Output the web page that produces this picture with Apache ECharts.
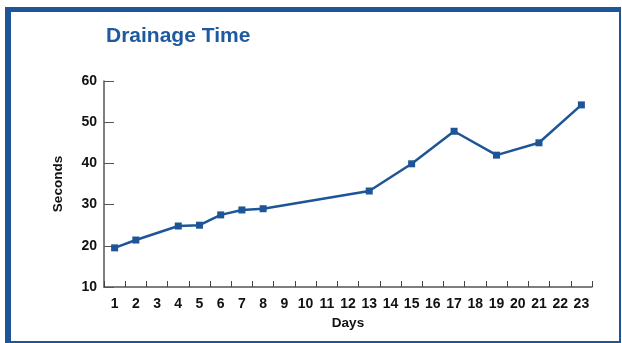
<!DOCTYPE html>
<html>
<head>
<meta charset="utf-8">
<script src="https://cdn.jsdelivr.net/npm/echarts@6/dist/echarts.min.js"></script>
<style>
  html, body { margin: 0; padding: 0; background: #fff; }
  #main { width: 622px; height: 343px; }
</style>
</head>
<body>
<div id="main"></div>
<script>
var chartDom = document.getElementById('main');
var myChart = echarts.init(chartDom);
var option;

// x categories: days 1..23
var days = ['1', '2', '3', '4', '5', '6', '7', '8', '9', '10', '11', '12',
    '13', '14', '15', '16', '17', '18', '19', '20', '21', '22', '23'];
// drainage time in seconds, only measured on some days
var seconds = [19.5, 21.4, null, 24.8, 25.0, 27.5, 28.7, 29.0, null, null, null, null,
    33.3, null, 39.9, null, 47.8, null, 42.0, null, 45.0, null, 54.2];

var blue = '#1d5597';
var labelFont = { color: '#111', fontWeight: 'bold', fontSize: 13.5, fontFamily: 'Liberation Sans, Arial, sans-serif' };
var tickFont = { color: '#111', fontWeight: 'bold', fontSize: 14, fontFamily: 'Liberation Sans, Arial, sans-serif' };

option = {
    animation: false,
    title: {
        text: 'Drainage Time',
        left: 101,
        top: 21,
        textStyle: {
            color: '#1f5aa0',
            fontSize: 21,
            fontWeight: 'bold',
            fontFamily: 'Liberation Sans, Arial, sans-serif'
        }
    },
    grid: {
        left: 104,
        right: 30,
        top: 81,
        bottom: 56
    },
    xAxis: {
        type: 'category',
        data: days,
        boundaryGap: true,
        name: 'Days',
        nameLocation: 'middle',
        nameGap: 29,
        nameTextStyle: labelFont,
        axisLine: { show: true, lineStyle: { color: '#555', width: 1.5 } },
        axisTick: { show: true, inside: true, length: 6, interval: 0, lineStyle: { color: '#444', width: 1 } },
        axisLabel: Object.assign({ interval: 0, margin: 10 }, tickFont)
    },
    yAxis: {
        type: 'value',
        min: 10,
        max: 60,
        interval: 10,
        name: 'Seconds',
        nameLocation: 'middle',
        nameGap: 39,
        nameTextStyle: labelFont,
        splitLine: { show: false },
        axisLine: { show: true, lineStyle: { color: '#555', width: 1.5 } },
        axisTick: { show: true, inside: true, length: 10, lineStyle: { color: '#555' } },
        axisLabel: Object.assign({ margin: 7 }, tickFont)
    },
    series: [
        {
            type: 'line',
            data: seconds,
            connectNulls: true,
            symbol: 'rect',
            symbolSize: 7,
            lineStyle: { color: blue, width: 2.5 },
            itemStyle: { color: blue }
        }
    ],
    graphic: [
        { type: 'rect', shape: { x: 5, y: 7, width: 6, height: 336 }, style: { fill: blue } },
        { type: 'rect', shape: { x: 5, y: 7, width: 615, height: 5 }, style: { fill: blue } },
        { type: 'rect', shape: { x: 619, y: 7, width: 2, height: 336 }, style: { fill: blue } },
        { type: 'rect', shape: { x: 5, y: 341, width: 616, height: 2 }, style: { fill: blue } }
    ]
};

option && myChart.setOption(option);
</script>
</body>
</html>
